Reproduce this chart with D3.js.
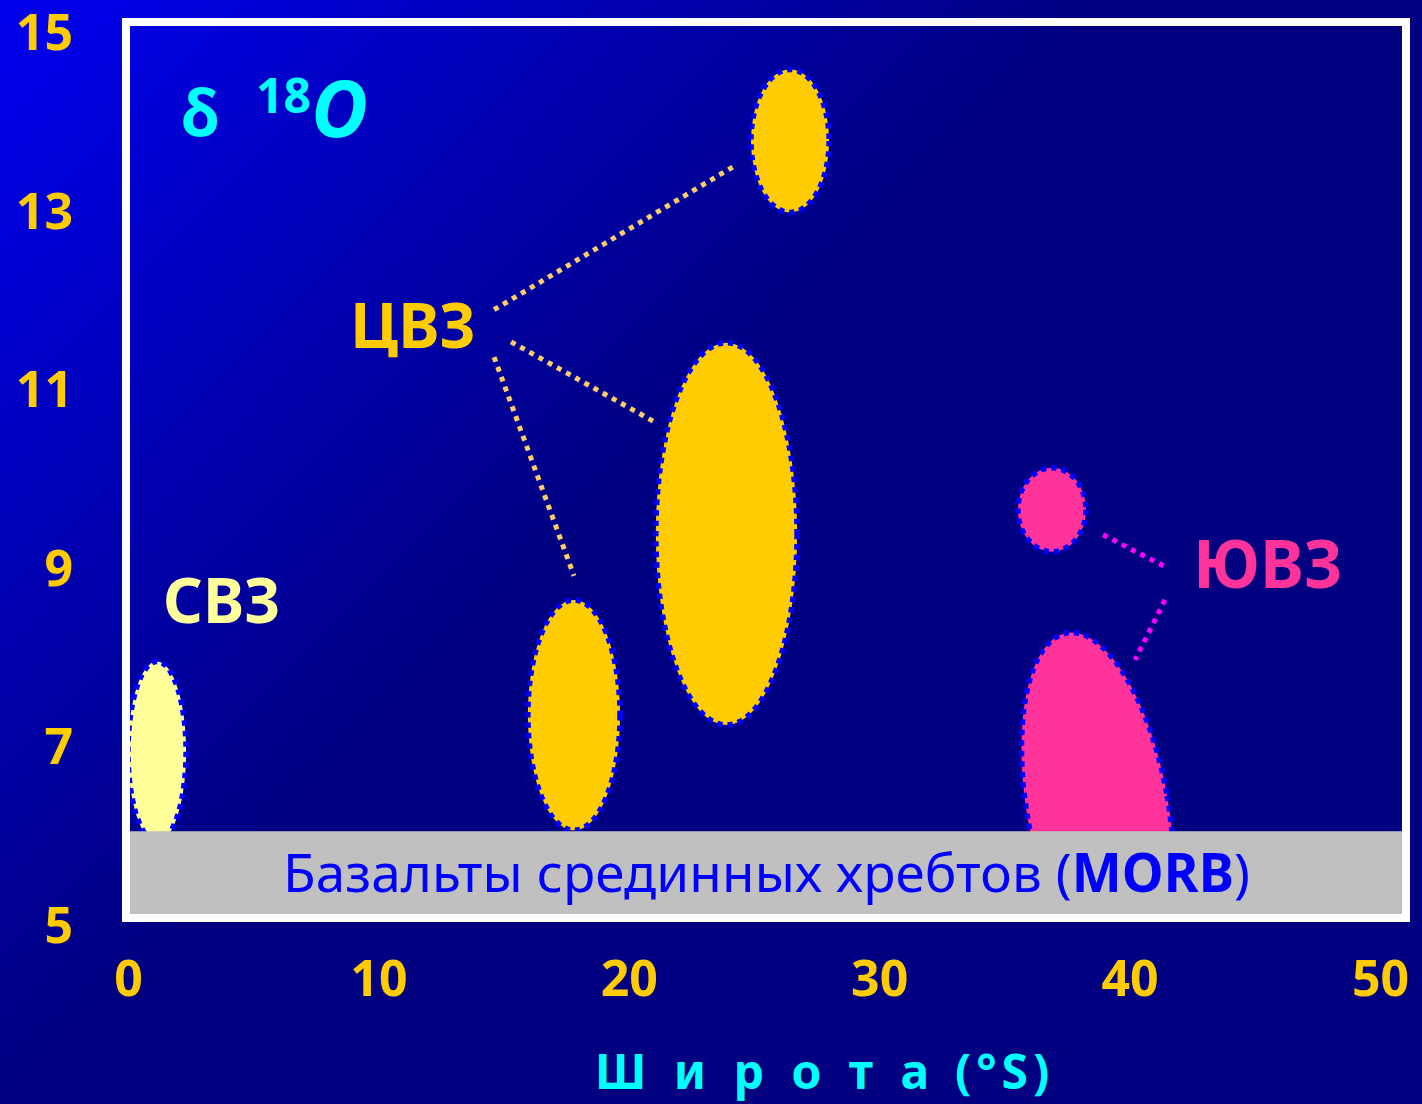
<!DOCTYPE html>
<html>
<head>
<meta charset="utf-8">
<script src="https://cdn.jsdelivr.net/npm/d3@7"></script>
<style>
  html, body { margin: 0; padding: 0; background: #000080; }
  svg { display: block; }
  text { font-family: "Comic Sans MS", "Noto Sans", "DejaVu Sans", sans-serif; }
</style>
</head>
<body>
<svg id="chart" width="1422" height="1104"></svg>
<script>
// ---------- data ----------
const xTicks = [0, 10, 20, 30, 40, 50];
const yTicks = [5, 7, 9, 11, 13, 15];

// fields (ellipses): zone, latitude centre (°S), δ18O centre, half-ranges, tilt
const fieldZone   = ["СВЗ", "ЦВЗ", "ЦВЗ", "ЦВЗ", "ЮВЗ", "ЮВЗ"];
const fieldLat    = [1.16, 17.81, 23.9, 26.44, 36.9, 38.72];
const fieldD18O   = [6.94, 7.35, 9.38, 13.78, 9.65, 6.31];
const fieldLatHalf  = [1.16, 1.84, 2.82, 1.56, 1.36, 2.82];
const fieldD18OHalf = [1.01, 1.29, 2.14, 0.80, 0.47, 1.99];
const fieldTilt   = [0, 0, 0, 0, 0, -10];

// MORB band upper limit
const morbTop = 6.05;
const morbLabel = "Базальты срединных хребтов (";
const morbAbbr = "MORB";

// zone labels
const zoneNames = ["СВЗ", "ЦВЗ", "ЮВЗ"];
const zoneLabelLat = [1.4, 8.87, 42.53];
const zoneLabelD18O = [8.38, 11.46, 8.77];

// leader lines: zone, from (lat, δ18O) to (lat, δ18O)
const leaderZone = ["ЦВЗ", "ЦВЗ", "ЦВЗ", "ЮВЗ", "ЮВЗ"];
const leaderLat1 = [14.62, 15.30, 14.62, 38.94, 41.41];
const leaderD1   = [11.89, 11.53, 11.36, 9.37, 8.64];
const leaderLat2 = [24.16, 21.05, 17.81, 41.37, 40.22];
const leaderD2   = [13.49, 10.63, 8.91, 9.02, 7.97];

const xTitleWord = "Ш и р о т а";
const xTitleUnit = "(°S)";

// ---------- styles ----------
const zoneFill = { "СВЗ": "#FFFF99", "ЦВЗ": "#FFCC00", "ЮВЗ": "#FF3399" };
const zoneFont = { "СВЗ": 62, "ЦВЗ": 62, "ЮВЗ": 66 };
const leaderColor = { "ЦВЗ": "#FFCC66", "ЮВЗ": "#FF00FF" };

// ---------- layout ----------
const W = 1422, H = 1104;
const frame = { x0: 130, y0: 26, x1: 1402, y1: 914 };

const svg = d3.select("#chart");
const x = d3.scaleLinear().domain([0, 50]).range([128, 1380]);
const y = d3.scaleLinear().domain([5, 15]).range([925, 32]);

// background gradient
const defs = svg.append("defs");
const grad = defs.append("linearGradient").attr("id", "bg")
  .attr("gradientUnits", "userSpaceOnUse")
  .attr("x1", 0).attr("y1", 0).attr("x2", 560).attr("y2", 560);
grad.append("stop").attr("offset", 0).attr("stop-color", "#0000F0");
grad.append("stop").attr("offset", 0.35).attr("stop-color", "#0000C8");
grad.append("stop").attr("offset", 1).attr("stop-color", "#000080");

svg.append("rect").attr("width", W).attr("height", H).attr("fill", "url(#bg)");

defs.append("clipPath").attr("id", "plotclip").append("rect")
  .attr("x", frame.x0).attr("y", frame.y0)
  .attr("width", frame.x1 - frame.x0).attr("height", frame.y1 - frame.y0);

const plot = svg.append("g").attr("clip-path", "url(#plotclip)");

// fields
const fields = fieldZone.map((z, i) => ({
  z, lat: fieldLat[i], d: fieldD18O[i],
  hl: fieldLatHalf[i], hd: fieldD18OHalf[i], t: fieldTilt[i]
}));
plot.selectAll("ellipse.field").data(fields).join("ellipse")
  .attr("class", "field")
  .attr("transform", d => `translate(${x(d.lat)},${y(d.d)}) rotate(${d.t})`)
  .attr("rx", d => x(d.lat + d.hl) - x(d.lat))
  .attr("ry", d => y(d.d) - y(d.d + d.hd))
  .attr("fill", d => zoneFill[d.z])
  .attr("stroke", "#0000FF")
  .attr("stroke-width", 5.5)
  .attr("stroke-dasharray", "5.5,5");

// leader lines
const leaders = leaderZone.map((z, i) => ({
  z, a: leaderLat1[i], b: leaderD1[i], c: leaderLat2[i], d: leaderD2[i]
}));
plot.selectAll("line.leader").data(leaders).join("line")
  .attr("class", "leader")
  .attr("x1", d => x(d.a)).attr("y1", d => y(d.b))
  .attr("x2", d => x(d.c)).attr("y2", d => y(d.d))
  .attr("stroke", d => leaderColor[d.z])
  .attr("stroke-width", 5)
  .attr("stroke-dasharray", "5,5.5");

// MORB band
plot.append("rect")
  .attr("x", frame.x0).attr("y", y(morbTop))
  .attr("width", frame.x1 - frame.x0).attr("height", frame.y1 - y(morbTop))
  .attr("fill", "#C0C0C0");

const mt = svg.append("text")
  .attr("x", 283).attr("y", 892)
  .attr("font-size", 53).attr("fill", "#0000FF")
  .attr("textLength", 967).attr("lengthAdjust", "spacing");
mt.append("tspan").text(morbLabel);
mt.append("tspan").attr("font-weight", "bold").text(morbAbbr);
mt.append("tspan").text(")");

// frame
svg.append("rect")
  .attr("x", frame.x0 - 4).attr("y", frame.y0 - 4)
  .attr("width", frame.x1 - frame.x0 + 8).attr("height", frame.y1 - frame.y0 + 8)
  .attr("fill", "none").attr("stroke", "#FFFFFF").attr("stroke-width", 8);

// zone labels
svg.selectAll("text.zone").data(zoneNames).join("text")
  .attr("class", "zone")
  .attr("x", (d, i) => x(zoneLabelLat[i]))
  .attr("y", (d, i) => y(zoneLabelD18O[i]))
  .attr("font-size", d => zoneFont[d]).attr("font-weight", "bold")
  .attr("fill", d => zoneFill[d])
  .text(d => d);

// title δ18O
const tt = svg.append("text").attr("fill", "#00FFFF");
tt.append("tspan").attr("x", 181).attr("y", 136).attr("font-size", 64).attr("font-weight", "bold").text("δ");
tt.append("tspan").attr("x", 256).attr("y", 113).attr("font-size", 48).attr("font-weight", "bold").text("18");
tt.append("tspan").attr("x", 311).attr("y", 137).attr("font-size", 78).attr("font-weight", "bold").attr("font-style", "italic").text("O");

// axes (tick labels only)
const yAxis = d3.axisLeft(y).tickValues(yTicks).tickSize(0).tickPadding(0).tickFormat(d3.format("d"));
const gy = svg.append("g").attr("transform", "translate(73,0)").call(yAxis);
gy.select(".domain").remove();
gy.selectAll("text")
  .attr("font-size", 50).attr("font-weight", "bold").attr("fill", "#FFCC00")
  .attr("dy", "0.35em").attr("text-anchor", "end")
  .style("font-family", '"Comic Sans MS", "Noto Sans", sans-serif');

const xAxis = d3.axisBottom(x).tickValues(xTicks).tickSize(0).tickPadding(0).tickFormat(d3.format("d"));
const gx = svg.append("g").attr("transform", "translate(0,996)").call(xAxis);
gx.select(".domain").remove();
gx.selectAll("text")
  .attr("font-size", 50).attr("font-weight", "bold").attr("fill", "#FFCC00")
  .attr("dy", 0).attr("y", 0)
  .style("font-family", '"Comic Sans MS", "Noto Sans", sans-serif');

// x-axis title
const xt = svg.append("text")
  .attr("x", 595).attr("y", 1089)
  .attr("font-size", 48).attr("font-weight", "bold").attr("fill", "#00FFFF");
xt.append("tspan").attr("letter-spacing", 7.5).text(xTitleWord);
xt.append("tspan").attr("x", 955).attr("letter-spacing", 5).text(xTitleUnit);
</script>
</body>
</html>
